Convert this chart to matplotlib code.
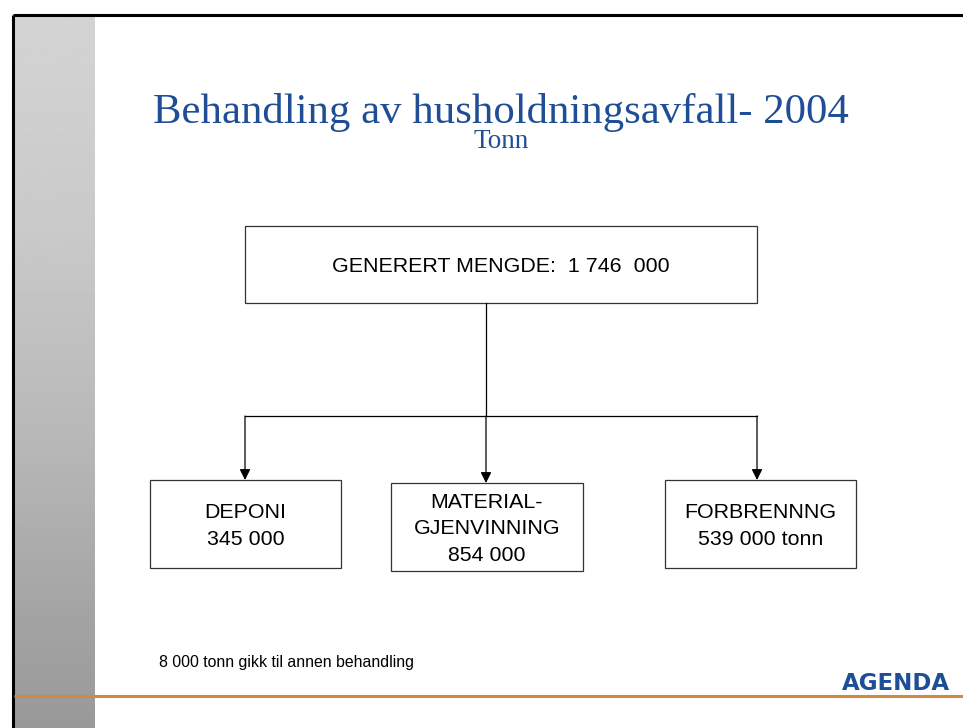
import numpy as np
import matplotlib
matplotlib.use('Agg')
import matplotlib.pyplot as plt
from matplotlib.patches import Rectangle

# Slide text and values
title = 'Behandling av husholdningsavfall- 2004'
subtitle = 'Tonn'
total_label = 'GENERERT MENGDE:  1 746  000'
categories = ['DEPONI', 'MATERIAL-\nGJENVINNING', 'FORBRENNNG']
values = ['345 000', '854 000', '539 000 tonn']
footnote = '8 000 tonn gikk til annen behandling'
logo = 'AGENDA'

blue = '#1f4e96'

fig = plt.figure(figsize=(9.63, 7.28), dpi=100)
ax = fig.add_axes([0, 0, 1, 1])
ax.set_xlim(0, 963)
ax.set_ylim(728, 0)
ax.axis('off')

# gray band on the left, light at the top and darker towards the bottom
t = np.linspace(0, 1, 300)
shade = np.interp(t, [0, 0.3, 0.6, 0.85, 1], [0.83, 0.79, 0.72, 0.64, 0.60])
ax.imshow(shade.reshape(-1, 1), cmap='gray', vmin=0, vmax=1,
          extent=(14, 95, 728, 16), aspect='auto', zorder=0)

# slide frame (top and left) and orange footer line
ax.plot([13, 963], [15, 15], color='black', lw=2.2, solid_capstyle='butt')
ax.plot([13, 13], [15, 728], color='black', lw=2.2, solid_capstyle='butt')
ax.plot([14, 963], [696, 696], color='#d0893e', lw=2.2, solid_capstyle='butt')

# titles
ax.text(501, 112, title, ha='center', va='center', color=blue,
        family='Liberation Serif', fontsize=30.8)
ax.text(501, 142, subtitle, ha='center', va='center', color=blue,
        family='Liberation Serif', fontsize=19.5)

# top box
ax.add_patch(Rectangle((245, 226), 512, 77, fill=False, ec='#333333', lw=0.9))
ax.text(501, 267, total_label, ha='center', va='center',
        family='Liberation Sans', fontsize=15.4)

# connectors
ax.plot([486, 486], [303, 416], color='black', lw=0.9)
ax.plot([245, 757], [416, 416], color='black', lw=0.9)

boxes = [(150, 480, 191, 88), (391, 483, 192, 88), (665, 480, 191, 88)]
arrow_x = [245, 486, 757]
for (x, y, w, h), xa, cat, val in zip(boxes, arrow_x, categories, values):
    ax.annotate('', xy=(xa, y), xytext=(xa, 416),
                arrowprops=dict(arrowstyle='-|>', color='black', lw=0.9,
                                mutation_scale=16, shrinkA=0, shrinkB=0))
    ax.add_patch(Rectangle((x, y), w, h, fill=False, ec='#333333', lw=0.9))
    ax.text(x + w / 2, y + h / 2 + 2, cat + '\n' + val, ha='center',
            va='center', family='Liberation Sans', fontsize=15.4,
            linespacing=1.5)

ax.text(159, 663, footnote, ha='left', va='center',
        family='Liberation Sans', fontsize=11.4)

ax.text(896, 683, logo, ha='center', va='center', color=blue,
        family='DejaVu Sans', fontweight='heavy', fontsize=16.5)

fig.savefig('out.png', dpi=100)
